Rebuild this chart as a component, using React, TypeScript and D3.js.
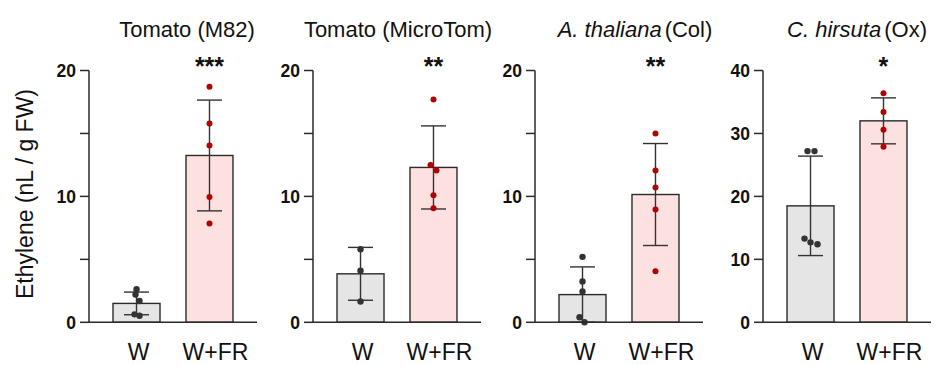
import React from "react";
import * as d3 from "d3";

const W = 937;
const H = 365;

const groups = ["W", "W+FR"];
const titlesMain = ["Tomato (M82)", "Tomato (MicroTom)", "A. thaliana", "C. hirsuta"];
const titlesItalic = [false, false, true, true];
const titlesSuffix = ["", "", "(Col)", "(Ox)"];
const stars = ["***", "**", "**", "*"];
const yMax = [20, 20, 20, 40];
const majorTicks = [
  [0, 10, 20],
  [0, 10, 20],
  [0, 10, 20],
  [0, 10, 20, 30, 40],
];
const minorTicks = [[5, 15], [5, 15], [5, 15], []];

const meansW = [1.5, 3.85, 2.2, 18.5];
const sdW = [0.9, 2.1, 2.2, 7.9];
const meansWFR = [13.25, 12.3, 10.15, 32.0];
const sdWFR = [4.4, 3.3, 4.05, 3.65];

const pointsW = [
  [2.62, 2.2, 1.69, 0.63, 0.52],
  [5.8, 4.1, 1.65],
  [5.2, 3.25, 2.45, 0.4, 0.0],
  [27.2, 27.2, 13.3, 12.7, 12.4],
];
const pointsWFR = [
  [18.7, 15.8, 14.05, 9.95, 7.85],
  [17.7, 12.5, 12.05, 10.1, 9.05],
  [15.0, 12.05, 10.7, 8.95, 4.05],
  [36.4, 33.4, 30.6, 27.9],
];

// layout (jitter offsets in px, not data)
const jitterW = [
  [0, -1, 3, -2, 3],
  [0, 0, 0],
  [0, 0, 0, -3, 2],
  [-3, 4, -6, 0, 7],
];
const jitterWFR = [
  [0, 0, 0, 0, 0],
  [0, -3, 3, 0, 0],
  [0, 0, 0, 0, 0],
  [0, 0, 0, 0],
];
const panelX0 = [89, 313, 535, 763];
const titleCx = [187, 398, 635, 857];
const PANEL_W = 168;
const Y0 = 322.3;
const Y1 = 70.5;

const FONT = "'Liberation Sans', Arial, sans-serif";
const AX = "#2a2a2a";

function Panel({ i }: { i: number }) {
  const x0 = panelX0[i];
  const xs = d3
    .scaleBand<string>()
    .domain(groups)
    .range([x0, x0 + PANEL_W])
    .paddingInner(0.356)
    .paddingOuter(0.329);
  const ys = d3.scaleLinear().domain([0, yMax[i]]).range([Y0, Y1]);
  const bw = xs.bandwidth();
  const means = [meansW[i], meansWFR[i]];
  const sds = [sdW[i], sdWFR[i]];
  const pts = [pointsW[i], pointsWFR[i]];
  const jit = [jitterW[i], jitterWFR[i]];
  const fills = ["#e5e5e5", "#fde1e1"];
  const dotCol = ["#333333", "#b30000"];
  const labelDx = [2, 6];
  const cap = 12.5;
  return (
    <g>
      {groups.map((g, k) => (
        <rect
          key={g}
          x={xs(g)!}
          y={ys(means[k])}
          width={bw}
          height={Y0 - ys(means[k])}
          fill={fills[k]}
          stroke={AX}
          strokeWidth={1.4}
        />
      ))}
      {groups.map((g, k) => {
        const cx = xs(g)! + bw / 2;
        const lo = Math.max(0, means[k] - sds[k]);
        const hi = means[k] + sds[k];
        return (
          <g key={"e" + g} stroke="#333" strokeWidth={1.4}>
            <line x1={cx} x2={cx} y1={ys(lo)} y2={ys(hi)} />
            <line x1={cx - cap} x2={cx + cap} y1={ys(hi)} y2={ys(hi)} />
            <line x1={cx - cap} x2={cx + cap} y1={ys(lo)} y2={ys(lo)} />
          </g>
        );
      })}
      {groups.map((g, k) =>
        pts[k].map((v, j) => (
          <circle
            key={g + j}
            cx={xs(g)! + bw / 2 + jit[k][j]}
            cy={ys(v)}
            r={k === 0 ? 3.2 : 3}
            fill={dotCol[k]}
          />
        ))
      )}
      <line x1={x0} x2={x0} y1={ys(yMax[i])} y2={Y0} stroke={AX} strokeWidth={1.5} />
      <line x1={x0} x2={x0 + PANEL_W} y1={Y0} y2={Y0} stroke={AX} strokeWidth={1.5} />
      {majorTicks[i].map((t) => (
        <g key={"t" + t}>
          <line x1={x0 - 9} x2={x0} y1={ys(t)} y2={ys(t)} stroke={AX} strokeWidth={1.5} />
          <text
            x={x0 - 13}
            y={ys(t)}
            dy="0.36em"
            textAnchor="end"
            fontFamily={FONT}
            fontWeight="bold"
            fontSize={17.5}
            fill="#111"
          >
            {t}
          </text>
        </g>
      ))}
      {minorTicks[i].map((t) => (
        <line key={"m" + t} x1={x0 - 9} x2={x0} y1={ys(t)} y2={ys(t)} stroke={AX} strokeWidth={1.5} />
      ))}
      {groups.map((g, k) => (
        <text
          key={"xl" + g}
          x={xs(g)! + bw / 2 + labelDx[k]}
          y={359.5}
          textAnchor="middle"
          fontFamily={FONT}
          fontSize={23}
          fill="#111"
        >
          {g}
        </text>
      ))}
      <text
        x={xs("W+FR")! + bw / 2}
        y={75}
        textAnchor="middle"
        fontFamily={FONT}
        fontWeight="bold"
        fontSize={25}
        fill="#111"
      >
        {stars[i]}
      </text>
      <text x={titleCx[i]} y={37} textAnchor="middle" fontFamily={FONT} fontSize={22} fill="#111">
        <tspan fontStyle={titlesItalic[i] ? "italic" : "normal"}>{titlesMain[i]}</tspan>
        {titlesSuffix[i] ? <tspan dx={3}>{titlesSuffix[i]}</tspan> : null}
      </text>
    </g>
  );
}

export default function App() {
  return (
    <div style={{ position: "absolute", left: 0, top: 0 }}>
      <svg width={W} height={H} style={{ display: "block", background: "#fff" }}>
        <text
          transform={`translate(33,194) rotate(-90)`}
          textAnchor="middle"
          fontFamily={FONT}
          fontSize={23}
          fill="#111"
        >
          Ethylene (nL / g FW)
        </text>
        {[0, 1, 2, 3].map((i) => (
          <Panel key={i} i={i} />
        ))}
      </svg>
    </div>
  );
}
